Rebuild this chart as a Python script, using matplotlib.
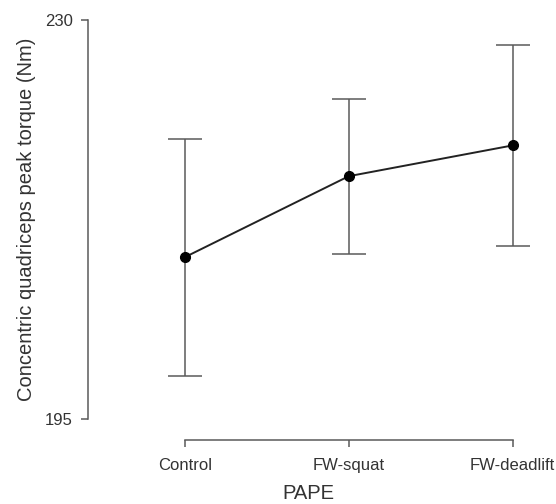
import matplotlib
matplotlib.use("Agg")
import matplotlib.pyplot as plt

# donnees
groupes = ["Control", "FW-squat", "FW-deadlift"]
moyennes = [209.2, 216.3, 219.0]
ecarts = [10.4, 6.8, 8.8]

plt.rcParams['font.family'] = ['Liberation Sans', 'DejaVu Sans']

fig = plt.figure(figsize=(5.56, 5.04), dpi=100)
ax = fig.add_axes([0.1583, 0.127, 0.7932, 0.8333])

x = list(range(len(groupes)))
ax.errorbar(x, moyennes, yerr=ecarts, fmt='none', ecolor='#5a5a5a',
            elinewidth=1.1, capsize=12.5, capthick=1.1)
ax.plot(x, moyennes, '-', color='#222222', linewidth=1.4)
ax.plot(x, moyennes, 'o', color='black', markersize=7)

ax.set_xlim(-0.5915, 2.1)
ax.set_ylim(193.16, 230)

# axes style R : spines limites aux donnees
for s in ['top', 'right']:
    ax.spines[s].set_visible(False)
ax.spines['left'].set_bounds(195, 230)
ax.spines['bottom'].set_bounds(0, 2)
for s in ['left', 'bottom']:
    ax.spines[s].set_color('#5a5a5a')
    ax.spines[s].set_linewidth(1.1)

ax.set_yticks([195, 230])
ax.set_xticks(x)
ax.set_xticklabels(groupes)
ax.tick_params(axis='both', labelsize=12, length=5, width=1.1, color='#5a5a5a', labelcolor='#333333')
ax.tick_params(axis='x', pad=8)
ax.tick_params(axis='y', pad=6)

ax.set_ylabel("Concentric quadriceps peak torque (Nm)", fontsize=14.5, color='#333333')
ax.yaxis.set_label_coords(-0.118, 0.526)
ax.set_xlabel("PAPE", fontsize=14.5, color='#333333', labelpad=8)

fig.savefig("out.png", dpi=100)
